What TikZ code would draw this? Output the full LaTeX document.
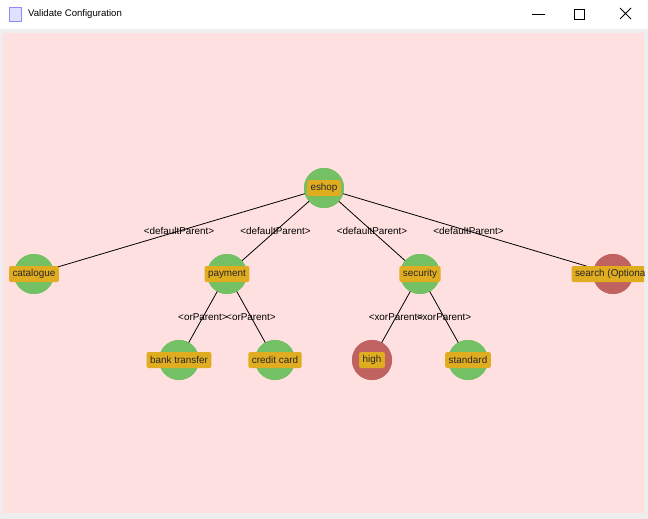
\documentclass[tikz,border=0pt]{standalone}
\usepackage{fontspec}
\setmainfont{Liberation Sans}
\usetikzlibrary{positioning}

\definecolor{panelpink}{RGB}{255,224,224}
\definecolor{framegrey}{RGB}{238,238,238}
\definecolor{featgreen}{RGB}{115,193,100}
\definecolor{featred}{RGB}{192,98,96}
\definecolor{taggold}{RGB}{224,172,32}

\begin{document}
\begin{tikzpicture}[x=1pt,y=-1pt]
    \useasboundingbox (0,0) rectangle (648,519);

    % window
    \fill[framegrey] (0,0) rectangle (648,519);
    \fill[white] (0,0) rectangle (648,29);
    \fill[blue!12] (9,7) rectangle (21,21);
    \draw[blue!45, line width=0.6pt] (9,7) rectangle (21,21);
    \node (title) at (28,14) [anchor=west, inner sep=0pt, font=\fontsize{9.6}{11}\selectfont] {Validate Configuration};
    \draw[line width=0.8pt] (532,14) -- (545,14);
    \draw[line width=0.8pt] (574,9) rectangle (584,19);
    \draw[line width=0.8pt] (620,8) -- (631,19) (620,19) -- (631,8);
    \fill[panelpink] (3,33) rectangle (644,513);

    \tikzstyle{feature} = [circle, minimum size=40pt, inner sep=0pt]
    \tikzstyle{ok} = [feature, fill=featgreen]
    \tikzstyle{bad} = [feature, fill=featred]
    \tikzstyle{tag} = [fill=taggold, rounded corners=2pt, inner xsep=3.5pt, inner ysep=0pt, minimum height=16pt, text=black!85, font=\fontsize{9.9}{10}\selectfont]
    \tikzstyle{rel} = [inner sep=0pt, font=\fontsize{9.9}{10}\selectfont]

    \begin{scope}
    \clip (3,33) rectangle (644,513);

    \node (eshop) at (324,188) [ok] {};
    \node (catalogue) at (34,274) [ok] {};
    \node (payment) at (227,274) [ok] {};
    \node (security) at (420,274) [ok] {};
    \node (search) at (613,274) [bad] {};
    \node (bank) at (179,360) [ok] {};
    \node (credit) at (275,360) [ok] {};
    \node (high) at (372,360) [bad] {};
    \node (standard) at (468,360) [ok] {};

    \draw[line width=0.8pt] (eshop.center) -- (catalogue.center) node[midway, rel] {<defaultParent>};
    \draw[line width=0.8pt] (eshop.center) -- (payment.center) node[midway, rel] {<defaultParent>};
    \draw[line width=0.8pt] (eshop.center) -- (security.center) node[midway, rel] {<defaultParent>};
    \draw[line width=0.8pt] (eshop.center) -- (search.center) node[midway, rel] {<defaultParent>};
    \draw[line width=0.8pt] (payment.center) -- (bank.center) node[midway, rel] {<orParent>};
    \draw[line width=0.8pt] (payment.center) -- (credit.center) node[midway, rel] {<orParent>};
    \draw[line width=0.8pt] (security.center) -- (high.center) node[midway, rel] {<xorParent>};
    \draw[line width=0.8pt] (security.center) -- (standard.center) node[midway, rel] {<xorParent>};

    % circles again over the lines, then the names
    \foreach \n/\s in {eshop/ok, catalogue/ok, payment/ok, security/ok, search/bad, bank/ok, credit/ok, high/bad, standard/ok}
        \node at (\n) [\s] {};

    \node (eshoptag) at (eshop) [tag] {eshop};
    \node (cataloguetag) at (catalogue) [tag] {catalogue};
    \node (paymenttag) at (payment) [tag] {payment};
    \node (securitytag) at (security) [tag] {security};
    \node (searchtag) at (search) [tag] {search (Optional)};
    \node (banktag) at (bank) [tag] {bank transfer};
    \node (credittag) at (credit) [tag] {credit card};
    \node (hightag) at (high) [tag] {high};
    \node (standardtag) at (standard) [tag] {standard};
    \end{scope}
\end{tikzpicture}
\end{document}
